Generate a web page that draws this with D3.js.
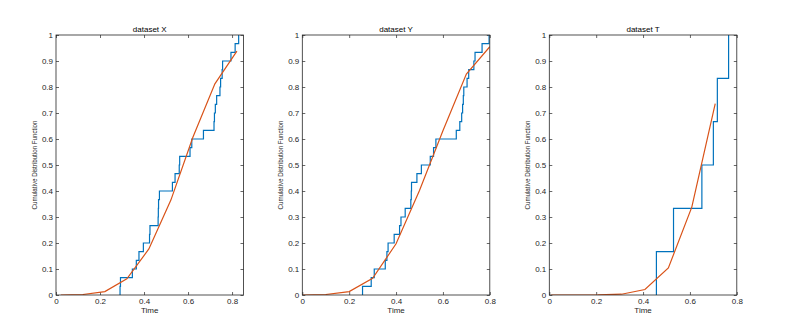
<!DOCTYPE html>
<html><head><meta charset="utf-8">
<script src="https://cdn.jsdelivr.net/npm/d3@7"></script>
<style>
body{margin:0;background:#fff;}
svg{display:block;}
text{font-family:"Liberation Sans",Arial,sans-serif;}
</style></head>
<body><svg id="c" width="788" height="331"></svg>
<script>
// ---- data ----
const titles = ["dataset X", "dataset Y", "dataset T"];
const xMax = [0.852, 0.8, 0.8];
const samplesX = [0.291,0.293,0.347,0.365,0.377,0.397,0.425,0.427,0.464,0.465,0.466,0.470,0.529,0.541,0.560,0.562,0.609,0.617,0.670,0.718,0.720,0.724,0.730,0.745,0.748,0.755,0.757,0.795,0.814,0.830];
const samplesY = [0.257,0.294,0.307,0.354,0.361,0.366,0.392,0.415,0.421,0.439,0.463,0.465,0.466,0.489,0.508,0.546,0.560,0.570,0.657,0.672,0.680,0.684,0.687,0.689,0.703,0.710,0.732,0.737,0.767,0.797];
const samplesT = [0.457,0.530,0.651,0.700,0.717,0.765];
const fitXx = [0.022,0.122,0.222,0.322,0.422,0.522,0.622,0.722,0.822];
const fitXy = [0.000,0.002,0.013,0.062,0.177,0.365,0.607,0.812,0.938];
const fitYx = [0.0,0.1,0.2,0.3,0.4,0.5,0.6,0.7,0.8];
const fitYy = [0.000,0.002,0.013,0.064,0.197,0.402,0.632,0.850,0.955];
const fitTx = [0.008,0.108,0.208,0.308,0.408,0.508,0.608,0.708];
const fitTy = [0.000,0.000,0.0003,0.003,0.021,0.104,0.338,0.736];
const xTicks = [0,0.2,0.4,0.6,0.8];
const yTicks = [0,0.1,0.2,0.3,0.4,0.5,0.6,0.7,0.8,0.9,1];
const yLabel = "Cumulative Distribution Function";
const xLabel = "Time";

const samples = [samplesX, samplesY, samplesT];
const fitsX = [fitXx, fitYx, fitTx];
const fitsY = [fitXy, fitYy, fitTy];

// ---- layout ----
const lefts = [56, 302.3, 549.3];
const W = 187.5, plotTop = 35, plotBottom = 295;
const axisCol = "#262626", blue = "#0072BD", orange = "#D95319";
const svg = d3.select("#c");
const fmt = d => d === 0 ? "0" : (d === 1 ? "1" : d3.format(".1f")(d));
const tl = 3;

lefts.forEach((L, i) => {
  const x = d3.scaleLinear().domain([0, xMax[i]]).range([L, L + W]);
  const y = d3.scaleLinear().domain([0, 1]).range([plotBottom, plotTop]);
  const g = svg.append("g");
  const clipId = "clip" + i;
  svg.append("clipPath").attr("id", clipId).append("rect")
    .attr("x", L).attr("y", plotTop).attr("width", W).attr("height", plotBottom - plotTop);

  const ax = g.append("g").attr("transform", `translate(0,${plotBottom})`)
    .call(d3.axisBottom(x).tickValues(xTicks).tickFormat(fmt).tickSizeInner(-tl).tickSizeOuter(0).tickPadding(3));
  const axT = g.append("g").attr("transform", `translate(0,${plotTop})`)
    .call(d3.axisTop(x).tickValues(xTicks).tickFormat("").tickSizeInner(-tl).tickSizeOuter(0));
  const ay = g.append("g").attr("transform", `translate(${L},0)`)
    .call(d3.axisLeft(y).tickValues(yTicks).tickFormat(fmt).tickSizeInner(-tl).tickSizeOuter(0).tickPadding(3));
  const ayR = g.append("g").attr("transform", `translate(${L + W},0)`)
    .call(d3.axisRight(y).tickValues(yTicks).tickFormat("").tickSizeInner(-tl).tickSizeOuter(0));
  [ax, axT, ay, ayR].forEach(a => {
    a.select(".domain").remove();
    a.selectAll("line").attr("stroke", axisCol).attr("stroke-width", 0.7);
    a.selectAll("text").attr("fill", axisCol).style("font-size", "8px").style("font-family", "Liberation Sans, Arial, sans-serif");
  });

  const s = samples[i].slice().sort(d3.ascending);
  const n = s.length;
  const pts = [[s[0], 0]].concat(s.map((v, k) => [v, (k + 1) / n]));
  g.append("path").datum(pts).attr("d", d3.line().x(d => x(d[0])).y(d => y(d[1])).curve(d3.curveStepAfter))
    .attr("fill", "none").attr("stroke", blue).attr("stroke-width", 1.2).attr("clip-path", `url(#${clipId})`);
  const fp = fitsX[i].map((v, k) => [v, fitsY[i][k]]);
  g.append("path").datum(fp).attr("d", d3.line().x(d => x(d[0])).y(d => y(d[1])))
    .attr("fill", "none").attr("stroke", orange).attr("stroke-width", 1.2).attr("clip-path", `url(#${clipId})`);

  g.append("rect").attr("x", L).attr("y", plotTop).attr("width", W).attr("height", plotBottom - plotTop)
    .attr("fill", "none").attr("stroke", axisCol).attr("stroke-width", 0.8);

  g.append("text").attr("x", L + W / 2).attr("y", 32).attr("text-anchor", "middle")
    .style("font-size", "8px").attr("fill", "#000").text(titles[i]);
  g.append("text").attr("x", L + W / 2).attr("y", 313).attr("text-anchor", "middle")
    .style("font-size", "8px").attr("fill", axisCol).text(xLabel);
  g.append("text").attr("transform", `translate(${L - 19},${(plotTop + plotBottom) / 2}) rotate(-90)`)
    .attr("text-anchor", "middle").style("font-size", "7px").attr("fill", axisCol)
    .attr("textLength", 89).attr("lengthAdjust", "spacingAndGlyphs").text(yLabel);
});
</script></body></html>
